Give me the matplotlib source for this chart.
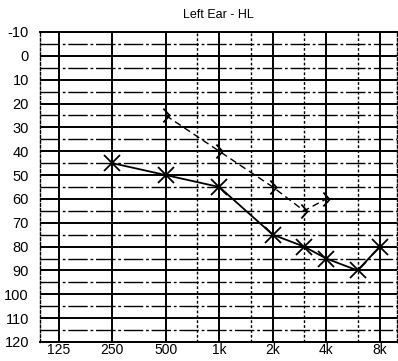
import matplotlib.pyplot as plt
from matplotlib.path import Path
from matplotlib.ticker import FixedLocator, NullFormatter

plt.rcParams['font.family'] = ['Liberation Sans', 'DejaVu Sans']
plt.rcParams['axes.unicode_minus'] = False

# air conduction (X) and bone conduction (>) thresholds, dB HL
freqs = [250, 500, 1000, 2000, 3000, 4000, 6000, 8000]
air_db = [45, 50, 55, 75, 80, 85, 90, 80]

bone_freqs = [500, 1000, 2000, 3000, 4000]
bone_db = [25, 40, 55, 65, 60]

tick_freqs = [125, 250, 500, 1000, 2000, 4000, 8000]
tick_labels = ['125', '250', '500', '1k', '2k', '4k', '8k']
half_octaves = [750, 1500, 3000, 6000]
db_ticks = list(range(-10, 121, 10))

# open chevron for bone conduction
chevron = Path([(-0.45, 1.0), (0.45, 0.0), (-0.45, -1.0)],
               [Path.MOVETO, Path.LINETO, Path.LINETO])

fig = plt.figure(figsize=(3.98, 3.61), dpi=100)
ax = fig.add_axes([40 / 398, 19 / 361, 357 / 398, 310 / 361])

ax.set_xscale('log', base=2)
ax.set_xlim(98, 10000)
ax.set_ylim(120, -10)

ax.xaxis.set_major_locator(FixedLocator(tick_freqs))
ax.set_xticklabels(tick_labels)
ax.xaxis.set_minor_locator(FixedLocator(half_octaves))
ax.xaxis.set_minor_formatter(NullFormatter())
ax.set_yticks(db_ticks)
ax.set_yticklabels([str(v) for v in db_ticks])
ax.yaxis.set_minor_locator(FixedLocator(range(-5, 120, 10)))

ax.grid(True, which='major', color='black', lw=1.4)
ax.grid(True, which='minor', axis='y', color='black', lw=1.0,
        ls=(0, (14, 2, 2, 2)))
ax.grid(True, which='minor', axis='x', color='black', lw=1.0, ls=(0, (2, 1.5)))

ax.tick_params(which='both', length=0)
ax.tick_params(axis='y', pad=8, labelsize=10.5)
ax.tick_params(axis='x', pad=1, labelsize=10)

for side in ('top', 'bottom'):
    ax.spines[side].set_linewidth(1.4)
for side in ('left', 'right'):
    ax.spines[side].set_linewidth(1.0)
    ax.spines[side].set_linestyle((0, (2, 1.5)))

ax.plot(freqs, air_db, color='black', lw=1.3, marker='x', ms=11, mew=1.3,
        zorder=3)
ax.plot(bone_freqs, bone_db, color='black', lw=1.0, ls=(0, (5, 3)),
        marker=chevron, ms=10, mew=1.3, mfc='none', zorder=3)

ax.set_title('Left Ear - HL', fontsize=9, pad=10)

fig.savefig('out.png', dpi=100)
